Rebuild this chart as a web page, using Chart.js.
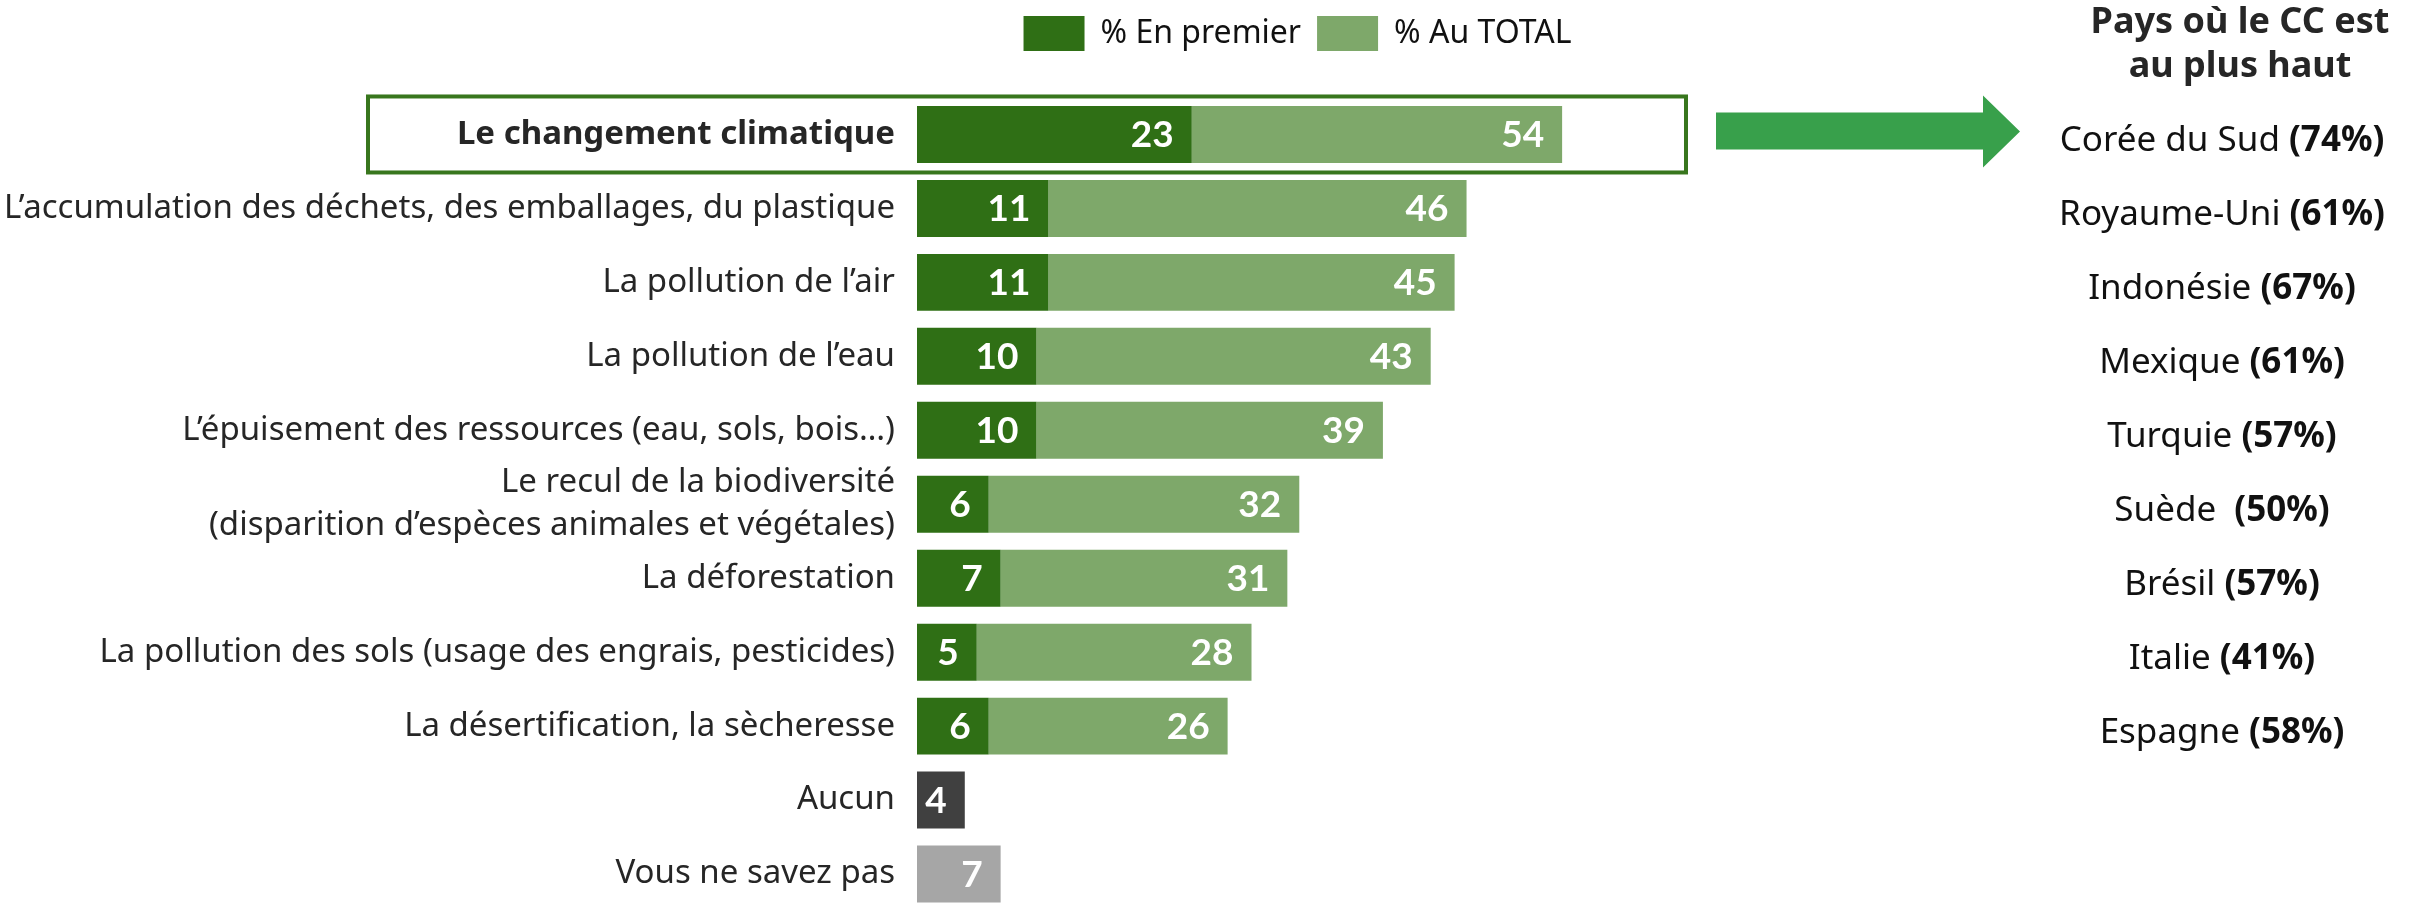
<!DOCTYPE html>
<html>
<head>
<meta charset="utf-8">
<script src="https://cdn.jsdelivr.net/npm/chart.js@4.4.1/dist/chart.umd.min.js"></script>
<style>
    html, body { margin: 0; padding: 0; background: #fff; overflow: hidden; }
</style>
</head>
<body>
<canvas id="myChart" width="2420" height="911"></canvas>
<script>
// data
const categories = [
    'Le changement climatique',
    'L’accumulation des déchets, des emballages, du plastique',
    'La pollution de l’air',
    'La pollution de l’eau',
    'L’épuisement des ressources (eau, sols, bois…)',
    ['Le recul de la biodiversité', '(disparition d’espèces animales et végétales)'],
    'La déforestation',
    'La pollution des sols (usage des engrais, pesticides)',
    'La désertification, la sècheresse',
    'Aucun',
    'Vous ne savez pas'
];
const enPremier = [23, 11, 11, 10, 10, 6, 7, 5, 6, 4, 7];
const auTotal = [54, 46, 45, 43, 39, 32, 31, 28, 26, null, null];
const seriesNames = ['% En premier', '% Au TOTAL'];

const panelTitle = ['Pays où le CC est', 'au plus haut'];
const pays = ['Corée du Sud', 'Royaume-Uni', 'Indonésie', 'Mexique', 'Turquie', 'Suède ', 'Brésil', 'Italie', 'Espagne'];
const paysPct = [74, 61, 67, 61, 57, 50, 57, 41, 58];

const DARK = '#2f6f15';
const LIGHT = '#7ea86a';
const otherColors = { 'Aucun': '#404040', 'Vous ne savez pas': '#a6a6a6' };
const FONT = 'Noto Sans';

const firstColor = function (c) {
    if (c.type !== 'data') return DARK;
    return otherColors[categories[c.dataIndex]] || DARK;
};

// white numbers at the end of each bar
const valueLabels = {
    id: 'valueLabels',
    afterDatasetsDraw(chart) {
        const ctx = chart.ctx;
        const xs = chart.scales.x;
        ctx.save();
        ctx.fillStyle = '#fff';
        ctx.font = 'bold 37px Lato';
        ctx.textAlign = 'right';
        ctx.textBaseline = 'middle';
        chart.data.datasets.forEach((ds, di) => {
            const meta = chart.getDatasetMeta(di);
            const values = di === 0 ? enPremier : auTotal;
            meta.data.forEach((el, i) => {
                if (values[i] == null) return;
                ctx.fillText(values[i], xs.getPixelForValue(values[i]) - 18, el.y + 1);
            });
        });
        ctx.restore();
    }
};

// highlight box, arrow and country list on the right
const extras = {
    id: 'extras',
    afterDraw(chart) {
        const ctx = chart.ctx;
        const ys = chart.scales.y;
        const y0 = ys.getPixelForValue(0);
        ctx.save();

        ctx.strokeStyle = '#38761d';
        ctx.lineWidth = 4;
        ctx.strokeRect(368, y0 - 38, 1318, 76);

        ctx.fillStyle = '#38a04b';
        ctx.beginPath();
        ctx.moveTo(1716, y0 - 22);
        ctx.lineTo(1983, y0 - 22);
        ctx.lineTo(1983, y0 - 39);
        ctx.lineTo(2020, y0 - 3);
        ctx.lineTo(1983, y0 + 33);
        ctx.lineTo(1983, y0 + 15);
        ctx.lineTo(1716, y0 + 15);
        ctx.closePath();
        ctx.fill();

        ctx.fillStyle = '#262626';
        ctx.textBaseline = 'alphabetic';
        ctx.textAlign = 'center';
        ctx.font = 'bold 36px ' + FONT;
        ctx.fillText(panelTitle[0], 2240, 33);
        ctx.fillText(panelTitle[1], 2240, 77);

        const cx = 2222;
        ctx.textAlign = 'left';
        ctx.fillStyle = '#111';
        pays.forEach((p, i) => {
            const name = p + ' ';
            const pct = '(' + paysPct[i] + '%)';
            ctx.font = '35px ' + FONT;
            const w1 = ctx.measureText(name).width;
            ctx.font = 'bold 35px ' + FONT;
            const w2 = ctx.measureText(pct).width;
            const x = cx - (w1 + w2) / 2;
            const y = ys.getPixelForValue(i) + 17;
            ctx.font = '35px ' + FONT;
            ctx.fillText(name, x, y);
            ctx.font = 'bold 35px ' + FONT;
            ctx.fillText(pct, x + w1, y);
        });
        ctx.restore();
    }
};

var ctx = document.getElementById('myChart').getContext('2d');
new Chart(ctx, {
    type: 'bar',
    data: {
        labels: categories,
        datasets: [{
            label: seriesNames[0],
            data: enPremier,
            backgroundColor: firstColor,
            grouped: false,
            order: 1
        }, {
            label: seriesNames[1],
            data: auTotal.map((t, i) => t == null ? null : [enPremier[i], t]),
            backgroundColor: LIGHT,
            grouped: false,
            order: 2
        }]
    },
    options: {
        indexAxis: 'y',
        responsive: false,
        animation: false,
        categoryPercentage: 1,
        barPercentage: 0.77,
        layout: {
            padding: { left: 0, right: 742, top: 0, bottom: 0 }
        },
        plugins: {
            legend: {
                position: 'top',
                fullSize: false,
                labels: {
                    boxWidth: 61,
                    boxHeight: 35,
                    padding: 16,
                    color: '#111',
                    font: { family: FONT, size: 32 }
                }
            },
            tooltip: { enabled: false }
        },
        scales: {
            x: {
                position: 'top',
                min: 0,
                max: 63.7,
                grid: { display: false, drawTicks: false },
                border: { display: false },
                ticks: { display: false },
                afterFit: function (s) { s.height = 36.5; }
            },
            y: {
                grid: { display: false, drawTicks: false },
                border: { display: false },
                ticks: {
                    autoSkip: false,
                    padding: 22,
                    color: '#262626',
                    font: function (c) {
                        return { family: FONT, size: 33, lineHeight: 1.3, weight: c.index === 0 ? 'bold' : 'normal' };
                    }
                },
                afterFit: function (s) {
                    s.width = 917;
                    s.paddingTop = 0;
                    s.paddingBottom = 0;
                }
            }
        }
    },
    plugins: [valueLabels, extras]
});
</script>
</body>
</html>
